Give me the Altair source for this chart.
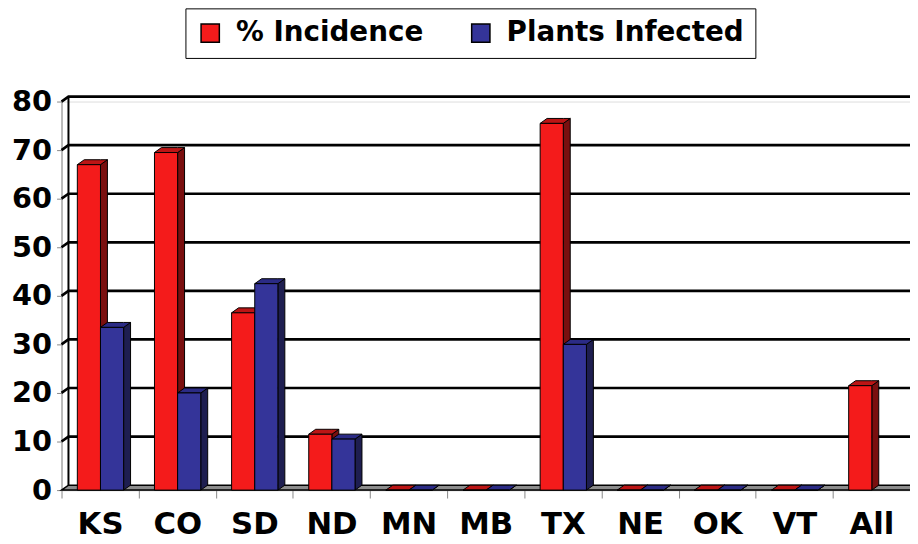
import altair as alt
import pandas as pd

# ---- data ----
categories = ["KS", "CO", "SD", "ND", "MN", "MB", "TX", "NE", "OK", "VT", "All"]
incidence = [67, 69.5, 36.5, 11.5, 0, 0, 75.5, 0, 0, 0, 21.5]
infected = [33.5, 20, 42.5, 10.5, 0, 0, 30, 0, 0, 0, None]
series_names = ["% Incidence", "Plants Infected"]
y_ticks = [0, 10, 20, 30, 40, 50, 60, 70, 80]

# ---- styling ----
front_colors = ["#F41B1B", "#343499"]
side_colors = ["#7A0F0F", "#1E1E50"]
top_colors = ["#BC1515", "#2B2B85"]
FLOOR = "#8C8C8C"
FONT = "DejaVu Sans"
GAP, BW = 0.205, 0.30      # bar placement inside a category (category units)
DX, DY = 0.09, 1.02        # 3D depth offsets (x in category units, y in value units)
N = len(categories)
YMAX = 80
CAT_PX = 856 / N

fronts, sides, tops = [], [], []
for s, vals in enumerate([incidence, infected]):
    for i, v in enumerate(vals):
        if v is None:
            continue
        L = i + GAP + s * BW
        R = L + BW
        bid = f"{s}-{i}"
        fronts.append(dict(s=s, series=series_names[s], x=L, x2=R, lo=0, hi=v))
        sides += [dict(s=s, bid=bid, x=R, lo=0, hi=v),
                  dict(s=s, bid=bid, x=R + DX, lo=DY, hi=v + DY)]
        tops += [dict(s=s, bid=bid, x=L, lo=v, hi=v),
                 dict(s=s, bid=bid, x=L + DX, lo=v, hi=v + DY),
                 dict(s=s, bid=bid, x=R, lo=v, hi=v + DY),
                 dict(s=s, bid=bid, x=R + DX, lo=v + DY, hi=v + DY)]
fronts = pd.DataFrame(fronts)
sides = pd.DataFrame(sides)
tops = pd.DataFrame(tops)

floor = pd.DataFrame([dict(x=0, lo=0, hi=0), dict(x=DX, lo=0, hi=DY),
                      dict(x=N, lo=0, hi=DY), dict(x=N + DX, lo=DY, hi=DY)])
grid = []
for v in y_ticks[1:]:
    grid += [dict(g=v, x=0, lo=v), dict(g=v, x=DX, lo=v + DY), dict(g=v, x=N + DX, lo=v + DY)]
grid = pd.DataFrame(grid)
wall = pd.DataFrame([dict(x=DX, lo=DY, hi=YMAX + DY)])

arr = "[" + ",".join(f"'{c}'" for c in categories) + "]"
xaxis = alt.Axis(
    title=None, grid=False,
    values=list(range(N)),
    labelExpr=f"{arr}[datum.value]",
    labelOffset=CAT_PX / 2,
    labelOverlap=False, labelFlush=False,
    tickSize=8, labelPadding=12,
    labelFont=FONT, labelFontSize=31, labelFontWeight="bold", labelColor="black",
)
yaxis = alt.Axis(title=None, grid=False, values=y_ticks, tickSize=5, labelPadding=5,
                 labelFont=FONT, labelFontSize=29, labelFontWeight="bold", labelColor="black")
xscale = alt.Scale(domain=[0, N], nice=False, zero=False)
yscale = alt.Scale(domain=[0, YMAX], nice=False, zero=False)


def X(f="x"):
    return alt.X(f"{f}:Q", scale=xscale, axis=xaxis, stack=None)


def Y(f="lo"):
    return alt.Y(f"{f}:Q", scale=yscale, axis=yaxis, stack=None)


layers = []
layers.append(alt.Chart(floor).mark_area(fill=FLOOR, stroke="black", strokeWidth=1.5,
                                         orient="vertical", opacity=1, fillOpacity=1)
              .encode(x=X(), y=Y(), y2="hi:Q"))
layers.append(alt.Chart(grid).mark_line(color="black", strokeWidth=2.7)
              .encode(x=X(), y=Y(), detail="g:N", order="x:Q"))
layers.append(alt.Chart(wall).mark_rule(color="black", strokeWidth=2)
              .encode(x=X(), y=Y(), y2="hi:Q"))

legend = alt.Legend(
    title=None, orient="none", legendX=125, legendY=-94, direction="horizontal",
    columns=2, gridAlign="each", columnPadding=44, padding=11,
    strokeColor="black", fillColor="white",
    symbolType="square", symbolSize=340, symbolStrokeColor="black", symbolStrokeWidth=1.5,
    symbolOpacity=1, labelFont=FONT, labelFontSize=28, labelFontWeight="bold",
    labelColor="black", labelOffset=12, labelLimit=0,
)
color = alt.Color("series:N", scale=alt.Scale(domain=series_names, range=front_colors), legend=legend)

for s in range(2):
    layers.append(alt.Chart(sides[sides.s == s]).mark_area(fill=side_colors[s], stroke="black", strokeWidth=1,
                                                          orient="vertical", opacity=1, fillOpacity=1)
                  .encode(x=X(), y=Y(), y2="hi:Q", detail="bid:N"))
    layers.append(alt.Chart(tops[tops.s == s]).mark_area(fill=top_colors[s], stroke="black", strokeWidth=1,
                                                        orient="vertical", opacity=1, fillOpacity=1)
                  .encode(x=X(), y=Y(), y2="hi:Q", detail="bid:N"))
    layers.append(alt.Chart(fronts[fronts.s == s]).mark_rect(stroke="black", strokeWidth=1, opacity=1)
                  .encode(x=X(), x2="x2:Q", y=Y(), y2="hi:Q", color=color))

chart = alt.layer(*layers).properties(
    width=856, height=392,
    autosize=alt.AutoSizeParams(type="none"),
    padding={"left": 54, "top": 92, "right": 0, "bottom": 52},
).configure_view(stroke=None).configure_axis(
    domainColor="black", domainWidth=2.5, tickColor="black", tickWidth=2.5,
).configure_legend(strokeWidth=3).configure(background="white")

chart.save("out.html", embed_options={"renderer": "svg", "actions": False})
